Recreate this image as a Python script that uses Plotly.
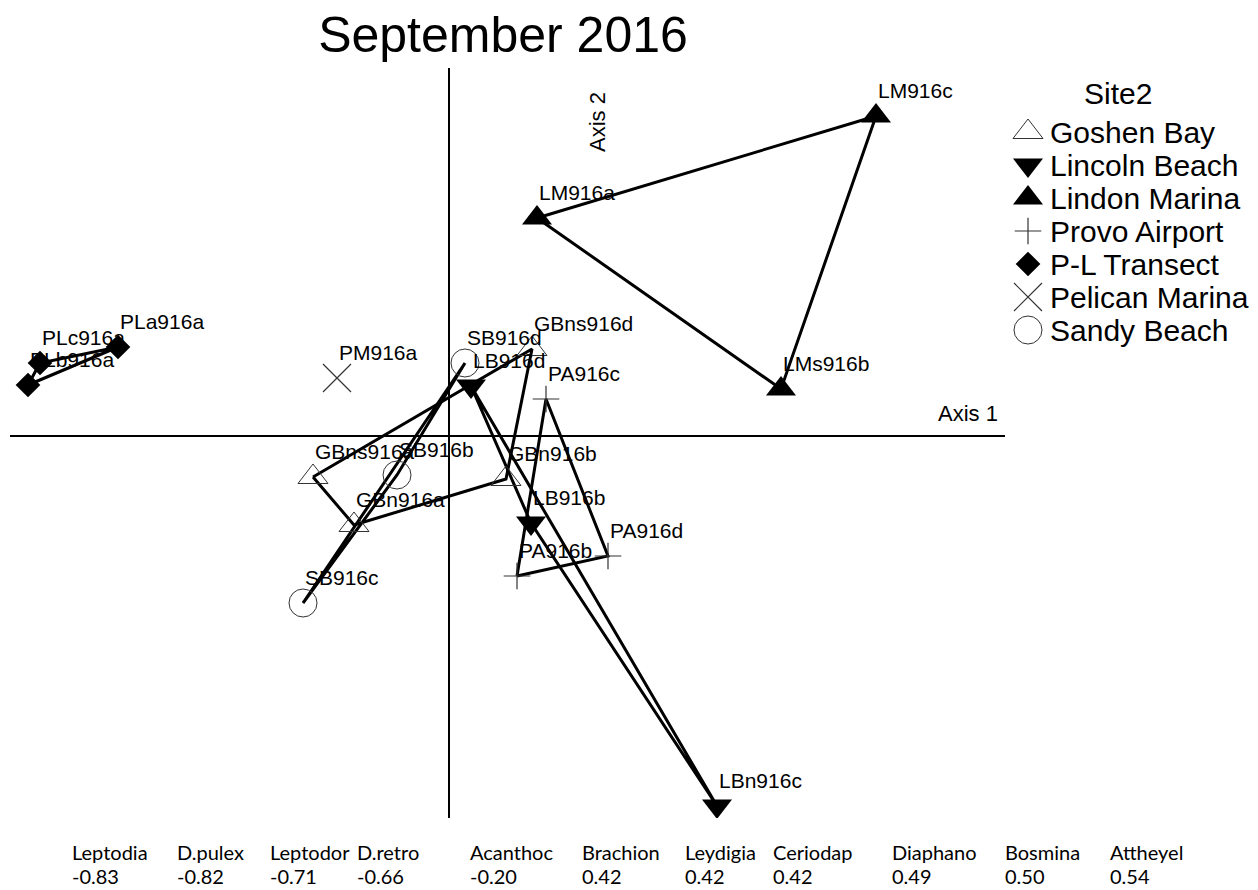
import plotly.graph_objects as go

# ---------------- data (ordination scores) ----------------
labels = ["PLa916a", "PLc916a", "PLb916a", "PM916a", "SB916d", "LB916d", "GBns916d", "PA916c",
          "GBns916a", "SB916b", "GBn916b", "GBn916a", "LB916b", "PA916d", "PA916b", "SB916c",
          "LBn916c", "LM916a", "LM916c", "LMs916b"]
axis1 = [-1.655, -2.045, -2.105, -0.560, 0.080, 0.110, 0.415, 0.485,
         -0.680, -0.260, 0.285, -0.475, 0.410, 0.795, 0.340, -0.730,
         1.340, 0.440, 2.135, 1.660]
axis2 = [0.445, 0.365, 0.255, 0.290, 0.365, 0.250, 0.435, 0.185,
         -0.205, -0.195, -0.215, -0.445, -0.435, -0.600, -0.700, -0.835,
         -1.850, 1.090, 1.600, 0.235]
site = ["P-L Transect", "P-L Transect", "P-L Transect", "Pelican Marina", "Sandy Beach",
        "Lincoln Beach", "Goshen Bay", "Provo Airport", "Goshen Bay", "Sandy Beach",
        "Goshen Bay", "Goshen Bay", "Lincoln Beach", "Provo Airport", "Provo Airport",
        "Sandy Beach", "Lincoln Beach", "Lindon Marina", "Lindon Marina", "Lindon Marina"]

site_order = ["Goshen Bay", "Lincoln Beach", "Lindon Marina", "Provo Airport",
              "P-L Transect", "Pelican Marina", "Sandy Beach"]

species = ["Leptodia", "D.pulex", "Leptodor", "D.retro", "Acanthoc", "Brachion",
           "Leydigia", "Ceriodap", "Diaphano", "Bosmina", "Attheyel"]
species_r = [-0.83, -0.82, -0.71, -0.66, -0.20, 0.42, 0.42, 0.42, 0.49, 0.50, 0.54]

# ---------------- layout geometry (pixels) ----------------
W, H = 1258, 890
PL, PT, PB = 10, 68, 818          # plot area top/bottom, left edge
MAIN_R = 1005                      # right end of the ordination frame
LEG_L = 1010                       # left edge of the legend panel
X_RANGE = [-2.195, 2.78]
Y_RANGE = [-1.91, 1.84]
FONT = "Liberation Sans, Arial, sans-serif"
SPFONT = "Lato, Carlito, sans-serif"


def px_x(px):
    return (px - PL) / (W - PL)


def px_y(py):
    return (PB - py) / (PB - PT)


styles = {
    "Goshen Bay":     dict(symbol="triangle-up-open", size=26, color="#333333", line=dict(color="#333333", width=1)),
    "Lincoln Beach":  dict(symbol="triangle-down", size=26, color="black", line=dict(color="black", width=0)),
    "Lindon Marina":  dict(symbol="triangle-up", size=26, color="black", line=dict(color="black", width=0)),
    "Provo Airport":  dict(symbol="cross-thin", size=19, color="#333333", line=dict(color="#333333", width=1.2)),
    "P-L Transect":   dict(symbol="diamond", size=19, color="black", line=dict(color="black", width=0)),
    "Pelican Marina": dict(symbol="x-thin", size=28, color="#333333", line=dict(color="#333333", width=1.2)),
    "Sandy Beach":    dict(symbol="circle-open", size=28, color="#333333", line=dict(color="#333333", width=1)),
}


def convex_hull(pts):
    pts = sorted(set(pts))
    if len(pts) < 3:
        return pts

    def cross(o, a, b):
        return (a[0] - o[0]) * (b[1] - o[1]) - (a[1] - o[1]) * (b[0] - o[0])

    lower, upper = [], []
    for p in pts:
        while len(lower) >= 2 and cross(lower[-2], lower[-1], p) <= 0:
            lower.pop()
        lower.append(p)
    for p in reversed(pts):
        while len(upper) >= 2 and cross(upper[-2], upper[-1], p) <= 0:
            upper.pop()
        upper.append(p)
    return lower[:-1] + upper[:-1]


fig = go.Figure()

# hull outlines
for s in site_order:
    pts = [(x, y) for x, y, g in zip(axis1, axis2, site) if g == s]
    hull = convex_hull(pts)
    if len(hull) >= 2:
        hx = [p[0] for p in hull] + [hull[0][0]]
        hy = [p[1] for p in hull] + [hull[0][1]]
        fig.add_trace(go.Scatter(x=hx, y=hy, mode="lines", line=dict(color="black", width=3),
                                 showlegend=False, hoverinfo="skip", xaxis="x", yaxis="y"))

# points
for s in site_order:
    xs = [x for x, g in zip(axis1, site) if g == s]
    ys = [y for y, g in zip(axis2, site) if g == s]
    ts = [t for t, g in zip(labels, site) if g == s]
    fig.add_trace(go.Scatter(x=xs, y=ys, mode="markers", name=s, text=ts,
                             marker=styles[s], showlegend=False, xaxis="x", yaxis="y"))

# legend panel (its own category axis)
for s in site_order:
    fig.add_trace(go.Scatter(x=[0], y=[s], mode="markers", name=s, marker=dict(styles[s]),
                             showlegend=False, hoverinfo="skip", xaxis="x2", yaxis="y2"))

annotations = []
# point labels
for t, x, y in zip(labels, axis1, axis2):
    annotations.append(dict(x=x, y=y, xref="x", yref="y", text=t, showarrow=False,
                            xanchor="left", yanchor="middle", yshift=26, xshift=0,
                            font=dict(family=FONT, size=21, color="black")))

# legend texts
for s in site_order:
    annotations.append(dict(x=0, y=s, xref="x2", yref="y2", text=s, showarrow=False,
                            xanchor="left", yanchor="middle", xshift=20,
                            font=dict(family=FONT, size=30, color="black")))
annotations.append(dict(x=px_x(1118), y=px_y(93), xref="paper", yref="paper", text="Site2",
                        showarrow=False, xanchor="center", yanchor="middle",
                        font=dict(family=FONT, size=30, color="black")))

# axis names
annotations.append(dict(x=X_RANGE[1], y=0, xref="x", yref="y", text="Axis 1", showarrow=False,
                        xanchor="right", yanchor="middle", xshift=-5, yshift=23,
                        font=dict(family=FONT, size=22, color="black")))
annotations.append(dict(x=px_x(598), y=px_y(122), xref="paper", yref="paper",
                        text="Axis 2", showarrow=False, textangle=-90,
                        xanchor="center", yanchor="middle",
                        font=dict(family=FONT, size=22, color="black")))

# species correlations beneath the plot
col_px = [70, 175, 268, 355, 468, 580, 683, 771, 890, 1003, 1108]
for name, r, px in zip(species, species_r, col_px):
    annotations.append(dict(x=px_x(px), y=px_y(852), xref="paper", yref="paper", text=name,
                            showarrow=False, xanchor="left", yanchor="middle",
                            font=dict(family=SPFONT, size=20, color="black")))
    annotations.append(dict(x=px_x(px), y=px_y(876), xref="paper", yref="paper",
                            text=f"{r:.2f}", showarrow=False, xanchor="left", yanchor="middle",
                            font=dict(family=SPFONT, size=20, color="black")))

# legend category axis: item i sits at 132 + 33*i px
leg_top = (132 - PT) / 33.0
leg_bot = (PB - 132) / 33.0

fig.update_layout(
    width=W, height=H,
    margin=dict(l=PL, r=0, t=PT, b=H - PB, pad=0),
    paper_bgcolor="white", plot_bgcolor="white",
    title=dict(text="September 2016", x=503 / W, xanchor="center", xref="container",
               y=1 - 34 / H, yref="container", yanchor="middle",
               font=dict(family=FONT, size=50, color="black")),
    xaxis=dict(domain=[0, px_x(MAIN_R)], range=X_RANGE, showgrid=False, showticklabels=False,
               ticks="", showline=False, zeroline=True, zerolinecolor="black", zerolinewidth=2),
    yaxis=dict(range=Y_RANGE, showgrid=False, showticklabels=False, ticks="", showline=False,
               zeroline=True, zerolinecolor="black", zerolinewidth=2),
    xaxis2=dict(domain=[px_x(LEG_L), 1], range=[-18, W - LEG_L - 18], visible=False, anchor="y2"),
    yaxis2=dict(domain=[0, 1], type="category", categoryorder="array", categoryarray=site_order,
                range=[leg_bot, -leg_top], visible=False, anchor="x2"),
    annotations=annotations,
    showlegend=False,
)

fig.write_html("out.html", config={"displayModeBar": False},
               post_script="document.body.style.margin='0px';document.body.style.overflow='hidden';")
